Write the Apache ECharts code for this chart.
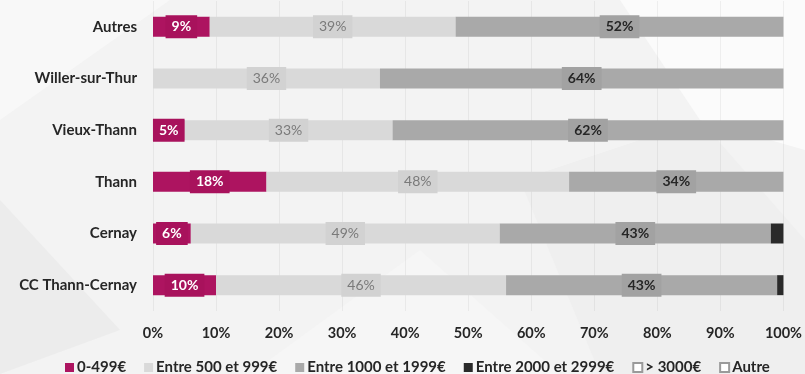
<!DOCTYPE html>
<html>
<head>
<meta charset="utf-8">
<script src="https://cdn.jsdelivr.net/npm/echarts@6/dist/echarts.min.js"></script>
<style>
  html, body { margin: 0; padding: 0; background: #f3f3f3; }
  #chart { width: 805px; height: 374px; }
</style>
</head>
<body>
<div id="chart"></div>
<script>
// --- données ---
const communes = ['CC Thann-Cernay', 'Cernay', 'Thann', 'Vieux-Thann', 'Willer-sur-Thur', 'Autres'];
const tranches = ['0-499€', 'Entre 500 et 999€', 'Entre 1000 et 1999€', 'Entre 2000 et 2999€', '> 3000€', 'Autre'];
const v0_499 = [10, 6, 18, 5, 0, 9];
const v500_999 = [46, 49, 48, 33, 36, 39];
const v1000_1999 = [43, 43, 34, 62, 64, 52];
const v2000_2999 = [1, 2, 0, 0, 0, 0];
const v3000 = [0, 0, 0, 0, 0, 0];
const vAutre = [0, 0, 0, 0, 0, 0];
const xTicks = [0, 10, 20, 30, 40, 50, 60, 70, 80, 90, 100];

const FONT = 'Lato';
const chart = echarts.init(document.getElementById('chart'));

// style de chaque tranche
const styles = [
    { color: '#ad1460', label: { color: '#ffffff', bg: '#a8125c', weight: 'bold' } },
    { color: '#d9d9d9', label: { color: '#7a7a7a', bg: '#d2d2d2', weight: 'normal' } },
    { color: '#a9a9a9', label: { color: '#262626', bg: '#a2a2a2', weight: 'bold' } },
    { color: '#2a2a2a', label: null },
    { color: '#ffffff', border: '#9a9a9a', label: null },
    { color: '#ffffff', border: '#9a9a9a', label: null }
];
const valeurs = [v0_499, v500_999, v1000_1999, v2000_2999, v3000, vAutre];

const series = tranches.map((nom, i) => {
    const s = styles[i];
    return {
        name: nom,
        type: 'bar',
        stack: 'total',
        barWidth: 20,
        // une part nulle n'est pas dessinée
        data: valeurs[i].map(v => v > 0 ? v : null),
        itemStyle: {
            color: s.color,
            borderColor: s.border || s.color,
            borderWidth: s.border ? 1 : 0
        },
        label: s.label ? {
            show: true,
            position: 'inside',
            formatter: (p) => p.value + '%',
            color: s.label.color,
            backgroundColor: s.label.bg,
            padding: [5, 6, 4, 6],
            fontFamily: FONT,
            fontSize: 14,
            fontWeight: s.label.weight
        } : { show: false }
    };
});

chart.setOption({
    backgroundColor: '#f3f3f3',
    animation: false,
    graphic: [
        // fond décoratif (formes géométriques pâles)
        { type: 'polygon', z: -10, shape: { points: [[0, 0], [170, 0], [0, 120]] }, style: { fill: '#f8f8f8' } },
        { type: 'polygon', z: -10, shape: { points: [[0, 200], [120, 330], [0, 374]] }, style: { fill: '#ececec' } },
        { type: 'polygon', z: -10, shape: { points: [[620, 0], [805, 0], [805, 150], [700, 120]] }, style: { fill: '#fbfbfb' } },
        { type: 'polygon', z: -10, shape: { points: [[520, 180], [700, 120], [805, 240], [805, 374], [600, 374]] }, style: { fill: '#efefef' } },
        { type: 'polygon', z: -10, shape: { points: [[250, 374], [420, 250], [560, 374]] }, style: { fill: '#f6f6f6' } }
    ],
    grid: { left: 153, right: 21, top: 1, bottom: 63, containLabel: false },
    legend: {
        left: 60,
        top: 355,
        itemWidth: 9,
        itemHeight: 9,
        itemGap: 18,
        icon: 'rect',
        textStyle: { fontFamily: FONT, fontSize: 15, fontWeight: 'bold', color: '#262626', padding: [0, 0, 0, -2] },
        data: tranches
    },
    xAxis: {
        type: 'value',
        min: 0,
        max: 100,
        interval: 10,
        axisLine: { show: false },
        axisTick: { show: false },
        splitLine: { show: true, lineStyle: { color: 'rgba(0,0,0,0.05)' } },
        axisLabel: {
            formatter: (v) => xTicks.includes(v) ? v + '%' : '',
            margin: 15,
            fontFamily: FONT,
            fontSize: 14.5,
            fontWeight: 'bold',
            color: '#262626'
        }
    },
    yAxis: {
        type: 'category',
        data: communes,
        axisLine: { show: false },
        axisTick: { show: false },
        axisLabel: {
            margin: 16,
            fontFamily: FONT,
            fontSize: 15,
            fontWeight: 'bold',
            color: '#262626'
        }
    },
    series: series
});
</script>
</body>
</html>
